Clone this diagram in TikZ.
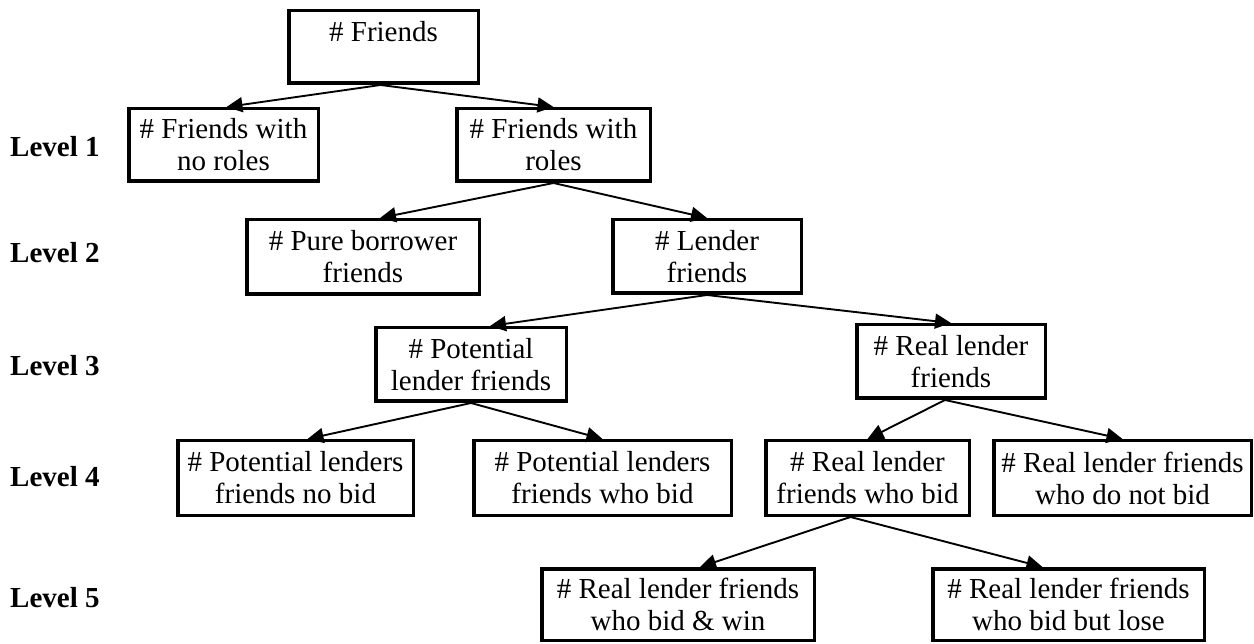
\documentclass[tikz,border=0pt]{standalone}
\usepackage{fontspec}
\setmainfont{Liberation Serif}
\usetikzlibrary{arrows.meta}
\begin{document}
\begin{tikzpicture}[x=1pt,y=-1pt,
  box/.style={draw, line width=3.5pt, inner sep=0pt, align=center, font=\fontsize{29}{32}\selectfont},
  sz/.style 2 args={minimum width=#1pt, minimum height=#2pt},
  lvl/.style={anchor=west, inner sep=0pt, font=\fontsize{29}{32}\selectfont\bfseries},
  arr/.style={line width=1.9pt, -{Triangle[length=16pt,width=15pt]}}]
\useasboundingbox (0,0) rectangle (1254,644);

% level labels
\node[lvl] (l1) at (10,147) {Level 1};
\node[lvl] (l2) at (10,253) {Level 2};
\node[lvl] (l3) at (10,366) {Level 3};
\node[lvl] (l4) at (10,477) {Level 4};
\node[lvl] (l5) at (10,598) {Level 5};

% boxes
\node[box, sz={189.5}{72.5}] (f)  at (383.5,47)   {\# Friends\\ ~};
\node[box, sz={189.5}{72.5}] (nr) at (223.5,145)  {\# Friends with\\no roles};
\node[box, sz={193.5}{72.5}] (wr) at (553.5,145)  {\# Friends with\\roles};
\node[box, sz={232.5}{74.5}] (pb) at (363,257)    {\# Pure borrower\\friends};
\node[box, sz={188.5}{73.5}] (lf) at (707,256.5)  {\# Lender\\friends};
\node[box, sz={190.5}{73.5}] (pl) at (471,364.5)  {\# Potential\\lender friends};
\node[box, sz={188.5}{73.5}] (rl) at (951,361.5)  {\# Real lender\\friends};
\node[box, sz={235.5}{74.5}] (pn) at (295.5,478)  {\# Potential lenders\\friends no bid};
\node[box, sz={257.5}{74.5}] (pw) at (602.5,478)  {\# Potential lenders\\friends who bid};
\node[box, sz={203.5}{74.5}] (rb) at (867.5,478)  {\# Real lender\\friends who bid};
\node[box, sz={257.5}{74.5}] (rn) at (1122.5,478) {\# Real lender friends\\who do not bid};
\node[box, sz={272.5}{71.5}] (bw) at (678,604.5)  {\# Real lender friends\\who bid \& win};
\node[box, sz={271.5}{71.5}] (bl) at (1068.5,604.5) {\# Real lender friends\\who bid but lose};

% connectors
\draw[arr] ([xshift=-3pt]f.south) -- ([xshift=3pt]nr.north);
\draw[arr] ([xshift=-3pt]f.south) -- (wr.north);
\draw[arr] (wr.south) -- ([xshift=17pt]pb.north);
\draw[arr] (wr.south) -- (lf.north);
\draw[arr] (lf.south) -- ([xshift=19pt]pl.north);
\draw[arr] (lf.south) -- (rl.north);
\draw[arr] (pl.south) -- ([xshift=12pt]pn.north);
\draw[arr] (pl.south) -- (pw.north);
\draw[arr] ([xshift=-6pt]rl.south) -- (rb.north);
\draw[arr] ([xshift=-6pt]rl.south) -- (rn.north);
\draw[arr] ([xshift=-17pt]rb.south) -- ([xshift=22pt]bw.north);
\draw[arr] ([xshift=-17pt]rb.south) -- ([xshift=-26pt]bl.north);
\end{tikzpicture}
\end{document}
